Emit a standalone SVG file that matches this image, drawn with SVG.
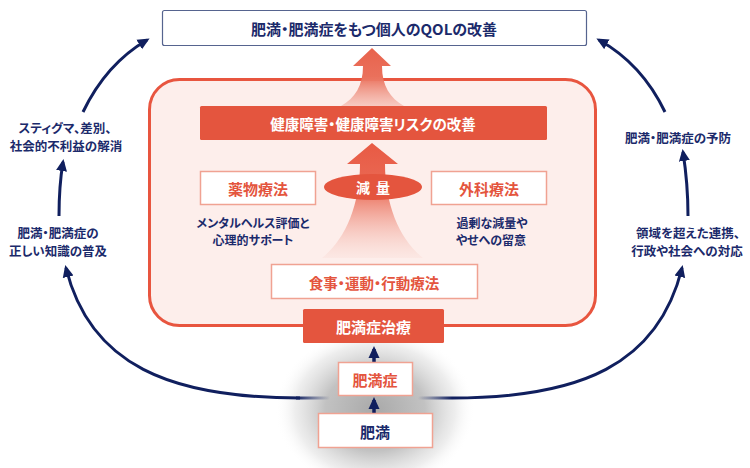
<svg xmlns="http://www.w3.org/2000/svg" width="750" height="468" viewBox="0 0 750 468">
<style>
text{font-family:"Noto Sans CJK JP","Noto Sans",sans-serif;font-weight:700;font-feature-settings:"palt";dominant-baseline:central;text-anchor:middle}
.navy{fill:#1b2a6b}
.red{fill:#e4553e}
.wt{fill:#ffffff}
.wbox{fill:#ffffff;stroke:#f0a292;stroke-width:1.5}
.rbox{fill:#e4553e}
.conn{fill:none;stroke:#101f5e;stroke-width:3}
</style>
<defs>
<marker id="ah" markerUnits="userSpaceOnUse" markerWidth="12" markerHeight="12" viewBox="0 0 12 12" refX="9" refY="6" orient="auto">
<path d="M0,0.5 L12,6 L0,11.5 Z" fill="#101f5e"/>
</marker>
<linearGradient id="ag1" x1="0" y1="0" x2="0" y2="1">
<stop offset="0" stop-color="#e8624c"/>
<stop offset="0.5" stop-color="#ea715c"/>
<stop offset="1" stop-color="#f3b2a6" stop-opacity="0.6"/>
</linearGradient>
<linearGradient id="ag2" x1="0" y1="0" x2="0" y2="1">
<stop offset="0" stop-color="#e85a44"/>
<stop offset="0.4" stop-color="#ea6a55"/>
<stop offset="1" stop-color="#f7cfc7" stop-opacity="0.2"/>
</linearGradient>
<radialGradient id="glow" cx="0.5" cy="0.5" r="0.5">
<stop offset="0" stop-color="#a9a9a9"/>
<stop offset="0.5" stop-color="#c2c2c2"/>
<stop offset="0.8" stop-color="#e6e6e6" stop-opacity="0.7"/>
<stop offset="1" stop-color="#ffffff" stop-opacity="0"/>
</radialGradient>
<linearGradient id="fadeL" gradientUnits="userSpaceOnUse" x1="296" y1="0" x2="330" y2="0">
<stop offset="0" stop-color="#101f5e"/>
<stop offset="1" stop-color="#101f5e" stop-opacity="0"/>
</linearGradient>
<linearGradient id="fadeR" gradientUnits="userSpaceOnUse" x1="452" y1="0" x2="418" y2="0">
<stop offset="0" stop-color="#101f5e"/>
<stop offset="1" stop-color="#101f5e" stop-opacity="0"/>
</linearGradient>
</defs>

<rect width="750" height="468" fill="#ffffff"/>

<g id="glow-area">
<ellipse cx="375" cy="410" rx="100" ry="82" fill="url(#glow)"/>
</g>

<g id="connectors">
<path class="conn" d="M300,398 C170,398 90,365 66,268" marker-end="url(#ah)"/>
<line x1="296" y1="398" x2="330" y2="398" stroke="url(#fadeL)" stroke-width="3"/>
<path class="conn" d="M452,398 C580,398 658,365 682,268" marker-end="url(#ah)"/>
<line x1="418" y1="398" x2="452" y2="398" stroke="url(#fadeR)" stroke-width="3"/>
<path class="conn" d="M59,216 Q59,186 63,162" marker-end="url(#ah)"/>
<path class="conn" d="M83,112 Q106,64 147,40" marker-end="url(#ah)"/>
<path class="conn" d="M688,216 Q688,184 683,152" marker-end="url(#ah)"/>
<path class="conn" d="M665,112 Q642,64 599,40" marker-end="url(#ah)"/>
<path d="M374,362 L374,349" stroke="#101f5e" stroke-width="3.5" marker-end="url(#ah)"/>
<path d="M374,413 L374,400" stroke="#101f5e" stroke-width="3.5" marker-end="url(#ah)"/>
</g>

<g id="top-goal">
<rect x="162.5" y="10.5" width="424" height="35" rx="2" fill="#ffffff" stroke="#56648f" stroke-width="1.2"/>
<text class="navy" x="374" y="28" font-size="15">肥満・肥満症をもつ個人のQOLの改善</text>
</g>

<g id="treatment-frame">
<rect x="149.5" y="79.5" width="446" height="246" rx="30" fill="#fdeeeb" stroke="#e8553f" stroke-width="3"/>
</g>

<g id="arrow-top">
<path d="M372,48 L391,66 L382,66 C382,86 390,98 404,106 L341,106 C355,98 363,86 363,66 L353,66 Z" fill="url(#ag1)"/>
</g>

<g id="health">
<rect class="rbox" x="200" y="106" width="347" height="34" rx="1.5"/>
<text class="wt" x="373" y="123" font-size="14.5">健康障害・健康障害リスクの改善</text>
</g>

<g id="arrow-weight">
<path d="M372,143 L398,164 L385,164 C385,205 400,240 423,258 L322,258 C345,240 360,205 360,164 L347,164 Z" fill="url(#ag2)"/>
</g>

<g id="weight-loss">
<ellipse cx="373" cy="187" rx="49" ry="13" fill="#e4553e"/>
<text class="wt" x="376" y="187" font-size="14" letter-spacing="6">減量</text>
</g>

<g id="drug">
<rect class="wbox" x="200.5" y="171.5" width="115" height="33"/>
<text class="red" x="258" y="188" font-size="15">薬物療法</text>
<text class="navy" x="253" y="222" font-size="12">メンタルヘルス評価と</text>
<text class="navy" x="253" y="239" font-size="12">心理的サポート</text>
</g>

<g id="surgery">
<rect class="wbox" x="431.5" y="171.5" width="115" height="33"/>
<text class="red" x="489" y="188" font-size="15">外科療法</text>
<text class="navy" x="492" y="222" font-size="12">過剰な減量や</text>
<text class="navy" x="491" y="239" font-size="12">やせへの留意</text>
</g>

<g id="lifestyle">
<rect class="wbox" x="271.5" y="264.5" width="206" height="34"/>
<text class="red" x="374" y="282" font-size="14.5">食事・運動・行動療法</text>
</g>

<g id="obesity-disease-treatment">
<rect class="rbox" x="303" y="309" width="141" height="34" rx="1.5"/>
<text class="wt" x="373.5" y="326" font-size="15">肥満症治療</text>
</g>

<g id="obesity-disease">
<rect class="wbox" x="338.5" y="362.5" width="74" height="33"/>
<text class="red" x="375" y="379" font-size="15">肥満症</text>
</g>

<g id="obesity">
<rect class="wbox" x="318.5" y="413.5" width="114" height="34"/>
<text class="navy" x="375" y="431" font-size="15">肥満</text>
</g>

<g id="left-labels">
<text class="navy" x="65" y="127" font-size="12.5">スティグマ、差別、</text>
<text class="navy" x="66" y="145" font-size="12.5">社会的不利益の解消</text>
<text class="navy" x="58" y="232" font-size="12.5">肥満・肥満症の</text>
<text class="navy" x="58" y="250" font-size="12.5">正しい知識の普及</text>
</g>

<g id="right-labels">
<text class="navy" x="678" y="137" font-size="12.5">肥満・肥満症の予防</text>
<text class="navy" x="688" y="232" font-size="12.5">領域を超えた連携、</text>
<text class="navy" x="687" y="250" font-size="12.5">行政や社会への対応</text>
</g>
</svg>
